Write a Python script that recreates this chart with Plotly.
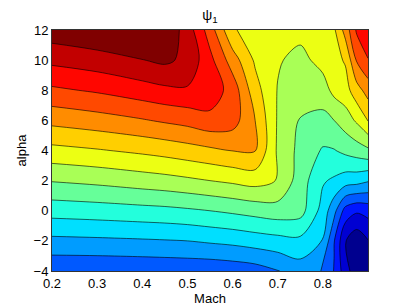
import plotly.graph_objects as go

# Grid of the field psi_1; rows follow alpha, columns follow mach
mach = [0.2, 0.3, 0.4, 0.45, 0.5, 0.55, 0.6, 0.65, 0.7, 0.75, 0.8, 0.825, 0.85, 0.875, 0.9]
alpha = [-4, -2, 0, 2, 4, 6, 8, 10, 12]

psi_am4 = [3.16, 3.16, 3.20, 3.23, 3.26, 3.27, 3.38, 3.55, 3.95, 4.50, 3.95, 2.95, 1.40, 0.40, 0.98]
psi_am2 = [4.75, 4.81, 4.89, 4.94, 5.00, 5.14, 5.27, 5.47, 5.64, 5.75, 4.95, 3.05, 1.05, 0.30, 0.95]
psi_a0 = [6.41, 6.52, 6.66, 6.73, 6.85, 7.00, 7.18, 7.38, 7.57, 7.40, 5.60, 4.30, 2.60, 2.15, 2.35]
psi_a2 = [8.06, 8.25, 8.51, 8.64, 8.81, 9.00, 9.19, 9.40, 8.95, 7.50, 6.10, 5.85, 5.50, 5.40, 5.10]
psi_a4 = [9.70, 9.92, 10.20, 10.37, 10.58, 10.80, 11.03, 11.05, 8.85, 7.70, 6.90, 6.95, 7.25, 7.50, 7.80]
psi_a6 = [11.29, 11.57, 11.92, 12.14, 12.35, 12.70, 12.45, 11.00, 8.90, 7.95, 7.70, 8.00, 8.50, 9.15, 10.05]
psi_a8 = [12.82, 13.13, 13.56, 13.78, 13.88, 13.60, 12.60, 10.40, 8.95, 8.30, 8.55, 9.30, 9.60, 10.60, 11.40]
psi_a10 = [14.25, 14.55, 14.97, 15.20, 14.75, 13.30, 11.50, 9.85, 9.10, 8.70, 9.35, 9.70, 10.10, 12.10, 12.95]
psi_a12 = [15.59, 15.90, 16.20, 15.80, 14.55, 12.50, 10.10, 9.60, 9.40, 9.30, 9.60, 9.85, 11.40, 13.15, 13.80]

psi1 = [psi_am4, psi_am2, psi_a0, psi_a2, psi_a4, psi_a6, psi_a8, psi_a10, psi_a12]

x_ticks = [0.2, 0.3, 0.4, 0.5, 0.6, 0.7, 0.8]
y_ticks = [-4, -2, 0, 2, 4, 6, 8, 10, 12]

band_colors = [
    "rgb(0,0,143)", "rgb(0,0,210)", "rgb(0,22,255)", "rgb(0,89,255)",
    "rgb(0,156,255)", "rgb(0,223,255)", "rgb(35,255,220)", "rgb(102,255,153)",
    "rgb(169,255,86)", "rgb(236,255,19)", "rgb(255,207,0)", "rgb(255,140,0)",
    "rgb(255,73,0)", "rgb(255,6,0)", "rgb(194,0,0)", "rgb(128,0,0)",
]
n = len(band_colors)
colorscale = [[k / (n - 1), c] for k, c in enumerate(band_colors)]

fig = go.Figure(
    go.Contour(
        x=mach, y=alpha, z=psi1,
        autocontour=False,
        contours=dict(start=1, end=15, size=1, coloring="fill", showlines=True),
        colorscale=colorscale,
        line=dict(color="black", width=0.6, smoothing=0.9),
        showscale=False,
        hoverinfo="skip",
    )
)

# the page body has an 8px margin, so the figure is 8px smaller and margins are shifted
W, H = 399, 298
font = dict(family="Liberation Sans, Arial, Helvetica, sans-serif", size=13, color="black")
fig.update_layout(
    width=W, height=H,
    margin=dict(l=44, r=39, t=22, b=35),
    paper_bgcolor="white", plot_bgcolor="white",
    font=font,
    title=dict(text="ψ<sub>1</sub>", x=0.5, xref="paper", xanchor="center",
               y=1 - 7 / H, yanchor="middle", font=dict(font, size=14)),
    xaxis=dict(range=[0.2, 0.9], tickvals=x_ticks, ticktext=[f"{v:.1f}" for v in x_ticks],
               showline=True, mirror=True, linecolor="#333", linewidth=1,
               ticks="", showgrid=False, zeroline=False, automargin=False,
               ticklabelstandoff=0,
               title=dict(text="Mach", standoff=1, font=font)),
    yaxis=dict(range=[-4, 12], tickvals=y_ticks,
               showline=True, mirror=True, linecolor="#333", linewidth=1,
               ticks="", showgrid=False, zeroline=False, automargin=False,
               ticklabelstandoff=0,
               title=dict(text="alpha", standoff=4, font=font)),
)

fig.write_html("out.html")
